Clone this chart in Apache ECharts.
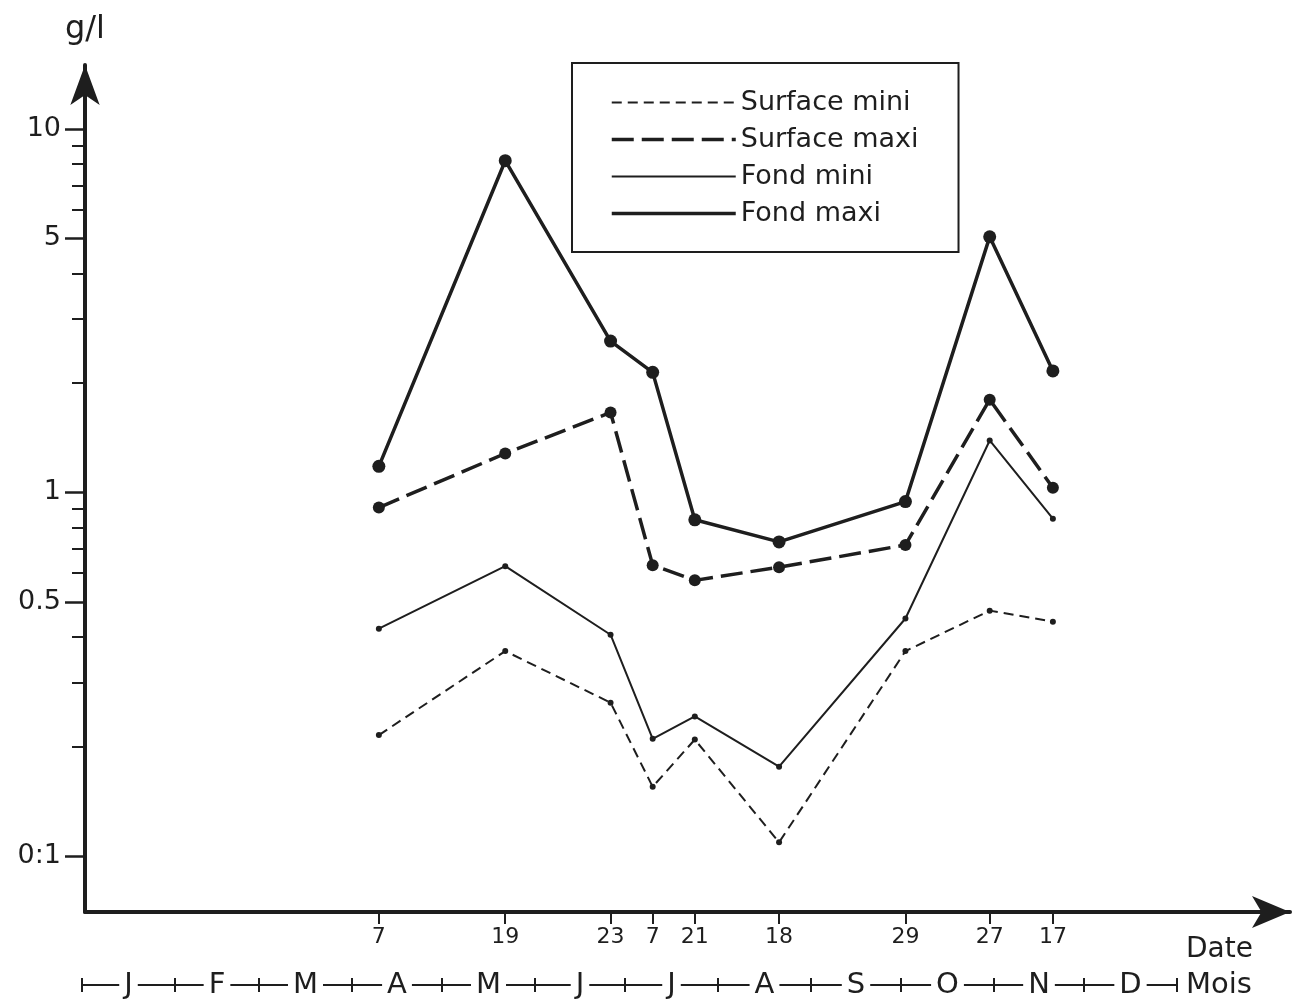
<!DOCTYPE html>
<html>
<head>
<meta charset="utf-8">
<script src="https://cdn.jsdelivr.net/npm/echarts@6/dist/echarts.min.js"></script>
<style>
  html, body { margin: 0; padding: 0; background: #ffffff; }
  #chart { width: 1306px; height: 1003px; }
</style>
</head>
<body>
<div id="chart"></div>
<script>
// Sampling dates: day of month and month number
const sampleDays = [7, 19, 23, 7, 21, 18, 29, 27, 17];
const sampleMonths = [4, 5, 6, 7, 7, 8, 9, 10, 11];

// Concentrations in g/l
const surfaceMini = [0.215, 0.366, 0.264, 0.155, 0.209, 0.109, 0.366, 0.473, 0.441];
const surfaceMaxi = [0.909, 1.28, 1.66, 0.631, 0.573, 0.623, 0.717, 1.80, 1.03];
const fondMini = [0.422, 0.627, 0.406, 0.210, 0.242, 0.176, 0.450, 1.39, 0.847];
const fondMaxi = [1.18, 8.18, 2.61, 2.14, 0.841, 0.731, 0.944, 5.05, 2.16];

// Axis ticks and labels
const yTickValues = [0.1, 0.5, 1, 5, 10];
const yTickLabels = ['0:1', '0.5', '1', '5', '10'];
const yMinorTicks = [0.2, 0.3, 0.4, 0.6, 0.7, 0.8, 0.9, 2, 3, 4, 6, 7, 8, 9];
const monthLetters = ['J', 'F', 'M', 'A', 'M', 'J', 'J', 'A', 'S', 'O', 'N', 'D'];
const monthLengths = [31, 28, 31, 30, 31, 30, 31, 31, 30, 31, 30, 31];

const INK = '#1e1e1e';
const FONT = 'DejaVu Sans';

// Month boundaries and mid-month positions, in days since 1 January
const monthStarts = [0];
monthLengths.forEach(function (len, i) { monthStarts.push(monthStarts[i] + len); });
const monthMids = monthLengths.map(function (len, i) { return monthStarts[i] + len / 2; });

// Day of year (0 = 1 January) of each sampling date
const dayOfYear = sampleDays.map(function (d, i) { return monthStarts[sampleMonths[i] - 1] + d - 1; });
const pts = function (vals) { return vals.map(function (v, i) { return [dayOfYear[i], v]; }); };

const indexOfNear = function (arr, v) {
  for (let i = 0; i < arr.length; i++) { if (Math.abs(arr[i] - v) < 1e-6 * Math.max(1, Math.abs(v))) return i; }
  return -1;
};

const chart = echarts.init(document.getElementById('chart'), null, { renderer: 'canvas' });

chart.setOption({
  animation: false,
  backgroundColor: '#ffffff',
  textStyle: { fontFamily: FONT, color: INK },
  grid: [
    { left: 85, right: 16, top: 65, bottom: 91, containLabel: false },
    { left: 82, width: 1095, top: 975, height: 10, containLabel: false }
  ],
  legend: {
    orient: 'vertical',
    left: 572,
    top: 63,
    padding: [26, 40, 25, 38],
    itemWidth: 124,
    itemHeight: 20,
    itemGap: 10,
    borderColor: INK,
    borderWidth: 2,
    backgroundColor: '#ffffff',
    selectedMode: false,
    itemStyle: { opacity: 0 },
    textStyle: { fontFamily: FONT, fontSize: 27, color: INK },
    data: [
      { name: 'Surface mini', lineStyle: { width: 2 } },
      { name: 'Surface maxi', lineStyle: { width: 3.5 } },
      { name: 'Fond mini', lineStyle: { width: 2 } },
      { name: 'Fond maxi', lineStyle: { width: 3.5 } }
    ]
  },
  xAxis: [
    {
      // sampling-date axis
      type: 'value', gridIndex: 0, position: 'bottom',
      min: -1.66, max: 398.8,
      name: 'Date', nameLocation: 'end', nameGap: -104, nameMoveOverlap: false,
      nameTextStyle: { fontFamily: FONT, fontSize: 28, color: INK, align: 'left', verticalAlign: 'top', padding: [24, 0, 0, 0] },
      axisLine: { show: true, onZero: false, symbol: ['none', 'arrow'], symbolSize: [24, 38], lineStyle: { color: INK, width: 4 } },
      axisTick: { show: true, inside: false, length: 12, customValues: dayOfYear, lineStyle: { color: INK, width: 2 } },
      axisLabel: {
        show: true, margin: 14, fontFamily: FONT, fontSize: 22, color: INK, hideOverlap: false,
        customValues: dayOfYear,
        formatter: function (v) { const i = indexOfNear(dayOfYear, v); return i < 0 ? '' : String(sampleDays[i]); }
      },
      splitLine: { show: false }
    },
    {
      // month row
      type: 'value', gridIndex: 1, position: 'bottom',
      min: 0, max: 365,
      name: 'Mois', nameLocation: 'end', nameGap: 9, nameMoveOverlap: false,
      nameTextStyle: { fontFamily: FONT, fontSize: 29, color: INK },
      axisLine: { show: true, onZero: false, lineStyle: { color: INK, width: 2 } },
      axisTick: { show: true, inside: false, length: 7, customValues: monthStarts, lineStyle: { color: INK, width: 2 } },
      axisLabel: {
        show: true, margin: 0, verticalAlign: 'middle', fontFamily: FONT, fontSize: 29, color: INK,
        backgroundColor: '#ffffff', padding: [0, 5, 0, 5], hideOverlap: false,
        customValues: monthMids,
        formatter: function (v) { const i = indexOfNear(monthMids, v); return i < 0 ? '' : monthLetters[i]; }
      },
      splitLine: { show: false }
    },
    {
      // upward halves of the month separators
      type: 'value', gridIndex: 1, position: 'bottom',
      min: 0, max: 365,
      axisLine: { show: false, onZero: false },
      axisTick: { show: true, inside: true, length: 7, customValues: monthStarts, lineStyle: { color: INK, width: 2 } },
      axisLabel: { show: false },
      splitLine: { show: false }
    }
  ],
  yAxis: [
    {
      type: 'log', logBase: 10, gridIndex: 0, position: 'left',
      min: 0.0701, max: 15.0,
      name: 'g/l', nameLocation: 'end', nameGap: 19, nameMoveOverlap: false,
      nameTextStyle: { fontFamily: FONT, fontSize: 32, color: INK, align: 'center' },
      axisLine: { show: true, onZero: false, symbol: ['none', 'arrow'], symbolSize: [22, 40], lineStyle: { color: INK, width: 4 } },
      axisTick: { show: true, inside: false, length: 20, customValues: yTickValues, lineStyle: { color: INK, width: 2.5 } },
      axisLabel: {
        show: true, margin: 24, fontFamily: FONT, fontSize: 27, color: INK, hideOverlap: false,
        customValues: yTickValues,
        formatter: function (v) { const i = indexOfNear(yTickValues, v); return i < 0 ? '' : yTickLabels[i]; }
      },
      splitLine: { show: false }
    },
    {
      // minor ticks between the labelled values
      type: 'log', logBase: 10, gridIndex: 0, position: 'left',
      min: 0.0701, max: 15.0,
      axisLine: { show: false, onZero: false },
      axisTick: { show: true, inside: false, length: 13, customValues: yMinorTicks, lineStyle: { color: INK, width: 2 } },
      axisLabel: { show: false },
      splitLine: { show: false }
    },
    {
      type: 'value', gridIndex: 1, show: false, min: 0, max: 1,
      axisLine: { onZero: false }
    }
  ],
  series: [
    {
      name: 'Surface mini', type: 'line', xAxisIndex: 0, yAxisIndex: 0,
      data: pts(surfaceMini),
      symbol: 'circle', symbolSize: 6,
      lineStyle: { color: INK, width: 2, type: [10, 6] },
      itemStyle: { color: INK },
      z: 2
    },
    {
      name: 'Surface maxi', type: 'line', xAxisIndex: 0, yAxisIndex: 0,
      data: pts(surfaceMaxi),
      symbol: 'circle', symbolSize: 12,
      lineStyle: { color: INK, width: 3.5, type: [22, 8] },
      itemStyle: { color: INK },
      z: 3
    },
    {
      name: 'Fond mini', type: 'line', xAxisIndex: 0, yAxisIndex: 0,
      data: pts(fondMini),
      symbol: 'circle', symbolSize: 6,
      lineStyle: { color: INK, width: 2 },
      itemStyle: { color: INK },
      z: 2
    },
    {
      name: 'Fond maxi', type: 'line', xAxisIndex: 0, yAxisIndex: 0,
      data: pts(fondMaxi),
      symbol: 'circle', symbolSize: 13,
      lineStyle: { color: INK, width: 3.5 },
      itemStyle: { color: INK },
      z: 3
    }
  ]
});
</script>
</body>
</html>
